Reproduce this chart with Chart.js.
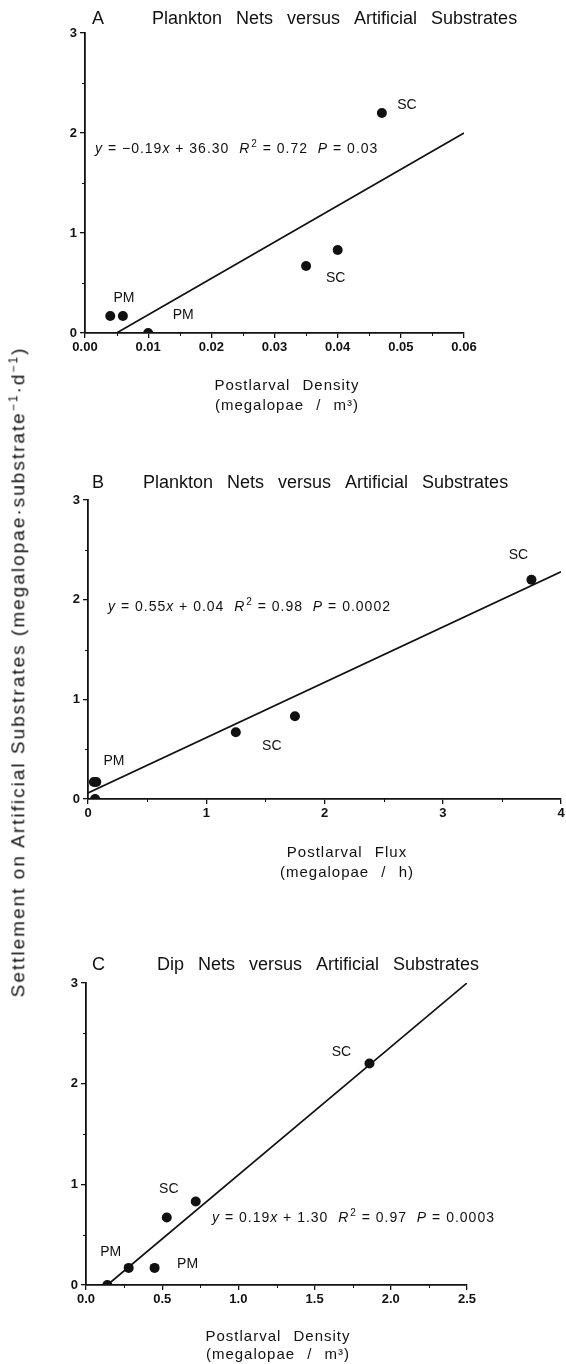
<!DOCTYPE html>
<html>
<head>
<meta charset="utf-8">
<script src="https://cdn.jsdelivr.net/npm/chart.js@4/dist/chart.umd.min.js"></script>
<style>
  body { margin: 0; background: #fff; }
  #page { position: relative; width: 566px; height: 1364px; overflow: hidden; background: #fff; }
  .panel { position: absolute; left: 0; width: 566px; }
  #ylab {
    position: absolute; left: 18px; top: 672px;
    transform: translate(-50%, -50%) rotate(-90deg);
    white-space: nowrap; font: 19px "Liberation Sans", Arial, sans-serif; color: #111;
    letter-spacing: 2px;
  }
  #ylab sup { font-size: 12px; }
</style>
</head>
<body>
<div id="page">
  <div class="panel" style="top:0;height:430px"><canvas id="chartA"></canvas></div>
  <div class="panel" style="top:440px;height:450px"><canvas id="chartB"></canvas></div>
  <div class="panel" style="top:900px;height:464px"><canvas id="chartC"></canvas></div>
  <div id="ylab">Settlement on Artificial Substrates (megalopae·substrate<sup>−1</sup>·d<sup>−1</sup>)</div>
</div>
<script>
// --- data ---
// A: plankton nets, postlarval density (megalopae / m3)
const densityA = [0.004, 0.006, 0.01, 0.035, 0.04, 0.047];
const settleA = [0.17, 0.17, 0, 0.67, 0.83, 2.2];
const fitXA = [0.005, 0.06];
const fitYA = [0, 2.0];
const eqA = [['y', 'i'], [' = −0.19'], ['x', 'i'], [' + 36.30  '], ['R', 'i'], ['2', 's'], [' = 0.72  '], ['P', 'i'], [' = 0.03']];

// B: plankton nets, postlarval flux (megalopae / h)
const fluxB = [0.05, 0.07, 0.06, 1.25, 1.75, 3.75];
const settleB = [0.17, 0.17, 0, 0.67, 0.83, 2.2];
const fitXB = [0, 4];
const fitYB = [0.06, 2.28];
const eqB = [['y', 'i'], [' = 0.55'], ['x', 'i'], [' + 0.04  '], ['R', 'i'], ['2', 's'], [' = 0.98  '], ['P', 'i'], [' = 0.0002']];

// C: dip nets, postlarval density (megalopae / m3)
const densityC = [0.14, 0.28, 0.45, 0.53, 0.72, 1.86];
const settleC = [0, 0.17, 0.17, 0.67, 0.83, 2.2];
const fitXC = [0.14, 2.5];
const fitYC = [0, 3.0];
const eqC = [['y', 'i'], [' = 0.19'], ['x', 'i'], [' + 1.30  '], ['R', 'i'], ['2', 's'], [' = 0.97  '], ['P', 'i'], [' = 0.0003']];

// site labels, attached to a point index
const siteA = [['SC', 5], ['PM', 1], ['PM', 2], ['SC', 4]];
const siteB = [['SC', 5], ['SC', 3], ['PM', 0]];
const siteC = [['SC', 5], ['SC', 3], ['PM', 1], ['PM', 2]];

const yTicks = [0, 1, 2, 3];

const FONT = '"Liberation Sans", Arial, sans-serif';

function pts(xs, ys) {
  return xs.map((x, i) => ({ x: x, y: ys[i] }));
}

function drawRuns(ctx, runs, x, y, size) {
  ctx.textAlign = 'left';
  ctx.textBaseline = 'alphabetic';
  ctx.letterSpacing = '1px';
  runs.forEach(r => {
    const style = r[1];
    if (style === 's') {
      ctx.font = Math.round(size * 0.7) + 'px ' + FONT;
      ctx.fillText(r[0], x + 1, y - size * 0.45);
      x += ctx.measureText(r[0]).width + 1;
    } else {
      ctx.font = (style === 'i' ? 'italic ' : '') + size + 'px ' + FONT;
      ctx.fillText(r[0], x, y);
      x += ctx.measureText(r[0]).width;
    }
  });
  ctx.letterSpacing = '0px';
}

const textPlugin = {
  id: 'panelText',
  afterDraw(chart, args, o) {
    const ctx = chart.ctx;
    const xs = chart.scales.x, ys = chart.scales.y;
    ctx.save();
    ctx.fillStyle = '#111';
    ctx.strokeStyle = '#111';

    // minor ticks
    ctx.lineWidth = 1;
    ctx.beginPath();
    for (let v = o.minorX; v < xs.max - 1e-9; v += o.majorX) {
      const px = Math.round(xs.getPixelForValue(v)) + 0.5;
      ctx.moveTo(px, ys.bottom);
      ctx.lineTo(px, ys.bottom + 3);
    }
    for (let v = 0.5; v < 3; v += 1) {
      const py = Math.round(ys.getPixelForValue(v)) + 0.5;
      ctx.moveTo(xs.left, py);
      ctx.lineTo(xs.left - 3, py);
    }
    ctx.stroke();

    // panel letter and title
    ctx.textBaseline = 'alphabetic';
    ctx.textAlign = 'left';
    ctx.font = '18px ' + FONT;
    ctx.fillText(o.letter, 92, o.titleY);
    ctx.wordSpacing = '9px';
    ctx.fillText(o.title, o.titleX, o.titleY);
    ctx.wordSpacing = '0px';

    // regression equation
    drawRuns(ctx, o.eq, o.eqX, o.eqY, 14);

    // site labels next to points
    ctx.font = '14px ' + FONT;
    ctx.textAlign = 'center';
    ctx.textBaseline = 'middle';
    const meta = chart.getDatasetMeta(0);
    o.sites.forEach((s, k) => {
      const el = meta.data[s[1]];
      ctx.fillText(s[0], el.x + o.siteOff[k][0], el.y + o.siteOff[k][1]);
    });

    // x axis title, two lines
    ctx.textBaseline = 'alphabetic';
    ctx.font = '15px ' + FONT;
    ctx.letterSpacing = '1px';
    ctx.wordSpacing = '7px';
    ctx.fillText(o.xTitle[0], o.xTitleX, o.xTitleY);
    ctx.fillText(o.xTitle[1], o.xTitleX, o.xTitleY + o.xTitleGap);
    ctx.restore();
  }
};

function makePanel(id, pointsData, lineData, xMin, xMax, xStep, digits, pad, text) {
  return new Chart(document.getElementById(id), {
    type: 'scatter',
    data: {
      datasets: [
        {
          data: pointsData,
          backgroundColor: '#111',
          borderColor: '#111',
          pointRadius: 5,
          pointBorderWidth: 0
        },
        {
          data: lineData,
          showLine: true,
          pointRadius: 0,
          borderColor: '#111',
          borderWidth: 1.7
        }
      ]
    },
    options: {
      responsive: true,
      maintainAspectRatio: false,
      devicePixelRatio: 1,
      animation: false,
      events: [],
      layout: { padding: pad },
      plugins: {
        legend: { display: false },
        tooltip: { enabled: false },
        panelText: text
      },
      scales: {
        x: {
          type: 'linear',
          min: xMin,
          max: xMax,
          afterFit: s => { s.height = 30; s.paddingLeft = 0; s.paddingRight = 0; },
          border: { display: true, color: '#111', width: 1.8 },
          grid: { drawOnChartArea: false, drawTicks: true, tickLength: 5, color: '#111', lineWidth: 1.3 },
          ticks: {
            stepSize: xStep,
            color: '#111',
            padding: 2,
            maxRotation: 0,
            font: { family: FONT, size: 13, weight: 'bold' },
            callback: v => Number(v).toFixed(digits)
          }
        },
        y: {
          type: 'linear',
          min: 0,
          max: 3,
          afterFit: s => { s.width = 25; },
          afterBuildTicks: s => { s.ticks = yTicks.map(v => ({ value: v })); },
          border: { display: true, color: '#111', width: 1.8 },
          grid: { drawOnChartArea: false, drawTicks: true, tickLength: 5, color: '#111', lineWidth: 1.3 },
          ticks: {
            color: '#111',
            padding: 3,
            font: { family: FONT, size: 13, weight: 'bold' }
          }
        }
      }
    },
    plugins: [textPlugin]
  });
}

makePanel('chartA', pts(densityA, settleA), pts(fitXA, fitYA), 0, 0.06, 0.01, 2,
  { left: 60, right: 102, top: 33, bottom: 67 },
  {
    letter: 'A', title: 'Plankton Nets versus Artificial Substrates', titleX: 152, titleY: 24,
    eq: eqA, eqX: 95, eqY: 153,
    sites: siteA, siteOff: [[25, -8], [1, -18], [35, -18], [-2, 28]],
    minorX: 0.005, majorX: 0.01,
    xTitle: ['Postlarval Density', '(megalopae / m³)'], xTitleX: 287, xTitleY: 390, xTitleGap: 20
  });

makePanel('chartB', pts(fluxB, settleB), pts(fitXB, fitYB), 0, 4, 1, 0,
  { left: 63, right: 4, top: 60, bottom: 61 },
  {
    letter: 'B', title: 'Plankton Nets versus Artificial Substrates', titleX: 143, titleY: 48,
    eq: eqB, eqX: 108, eqY: 171,
    sites: siteB, siteOff: [[-13, -25], [36, 14], [20, -21]],
    minorX: 0.5, majorX: 1,
    xTitle: ['Postlarval Flux', '(megalopae / h)'], xTitleX: 347, xTitleY: 417, xTitleGap: 20
  });

makePanel('chartC', pts(densityC, settleC), pts(fitXC, fitYC), 0, 2.5, 0.5, 1,
  { left: 61, right: 99, top: 83, bottom: 49 },
  {
    letter: 'C', title: 'Dip Nets versus Artificial Substrates', titleX: 157, titleY: 70,
    eq: eqC, eqX: 212, eqY: 322,
    sites: siteC, siteOff: [[-28, -11], [2, -28], [-18, -16], [33, -4]],
    minorX: 0.25, majorX: 0.5,
    xTitle: ['Postlarval Density', '(megalopae / m³)'], xTitleX: 278, xTitleY: 441, xTitleGap: 18
  });
</script>
</body>
</html>
